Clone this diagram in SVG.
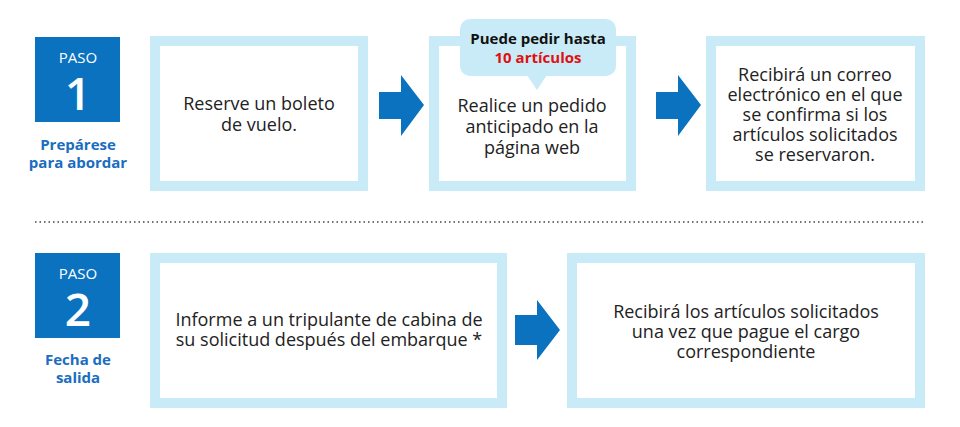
<svg xmlns="http://www.w3.org/2000/svg" width="960" height="427" viewBox="0 0 960 427">
<style>
.box{fill:#fff;stroke:#c9ebf7;stroke-width:10}
.paso{fill:#0a72bf}
.arrow{fill:#0a72bf}
.t{font-family:"Open Sans","Noto Sans",sans-serif;font-size:18px;fill:#222;text-anchor:middle}
.pl{font-family:"Open Sans",sans-serif;font-size:15px;fill:#fff;text-anchor:middle}
.pn{font-family:"Open Sans",sans-serif;font-weight:600;font-size:46px;fill:#fff;text-anchor:middle}
.lab{font-family:"Open Sans",sans-serif;font-weight:bold;font-size:15px;fill:#1a6dc0;text-anchor:middle}
.c{font-family:"Open Sans",sans-serif;font-weight:bold;font-size:15px;text-anchor:middle}
</style>
<rect width="960" height="427" fill="#fff"/>
<g id="paso1"><rect class="paso" x="35" y="37" width="85" height="85"/><text class="pl" x="78" y="63">PASO</text><text class="pn" x="78" y="110">1</text>
<text class="lab" x="78" y="150">Prepárese</text><text class="lab" x="78" y="168">para abordar</text></g>
<g id="n1"><rect class="box" x="155" y="41" width="208" height="145"/><text class="t" x="259" y="110">Reserve un boleto</text><text class="t" x="259" y="131">de vuelo.</text></g>
<g id="n2"><rect class="box" x="434" y="41" width="197" height="145"/><text class="t" x="532" y="112">Realice un pedido</text><text class="t" x="532" y="133">anticipado en la</text><text class="t" x="532" y="154">página web</text></g>
<g id="callout"><rect x="460" y="19" width="156" height="57" rx="10" fill="#c9ebf7"/><polygon points="527,75 547,75 537,90" fill="#c9ebf7"/>
<text class="c" x="538" y="44" fill="#111">Puede pedir hasta</text><text class="c" x="538" y="63" fill="#e01010">10 artículos</text></g>
<g id="n3"><rect class="box" x="711" y="41" width="209" height="145"/><text class="t" x="815" y="81">Recibirá un correo</text><text class="t" x="815" y="101">electrónico en el que</text><text class="t" x="815" y="121">se confirma si los</text><text class="t" x="815" y="141">artículos solicitados</text><text class="t" x="815" y="161">se reservaron.</text></g>
<line x1="35" y1="222" x2="925" y2="222" stroke="#444" stroke-width="1.5" stroke-dasharray="1.5 3"/>
<g id="paso2"><rect class="paso" x="35" y="253" width="85" height="85"/><text class="pl" x="78" y="279">PASO</text><text class="pn" x="78" y="326">2</text>
<text class="lab" x="78" y="365">Fecha de</text><text class="lab" x="78" y="383">salida</text></g>
<g id="n4"><rect class="box" x="155" y="258" width="347" height="145"/><text class="t" x="329" y="326">Informe a un tripulante de cabina de</text><text class="t" x="329" y="346">su solicitud después del embarque *</text></g>
<g id="n5"><rect class="box" x="572" y="258" width="348" height="145"/><text class="t" x="746" y="318">Recibirá los artículos solicitados</text><text class="t" x="746" y="338">una vez que pague el cargo</text><text class="t" x="746" y="358">correspondiente</text></g>
<g id="connectors">
<polygon class="arrow" points="379,92 401,92 401,75 424,105 401,136 401,119 379,119"/>
<polygon class="arrow" points="656,92 678,92 678,75 701,105 678,136 678,119 656,119"/>
<polygon class="arrow" points="515,315 537,315 537,300 560,330 537,360 537,345 515,345"/>
</g>
</svg>
